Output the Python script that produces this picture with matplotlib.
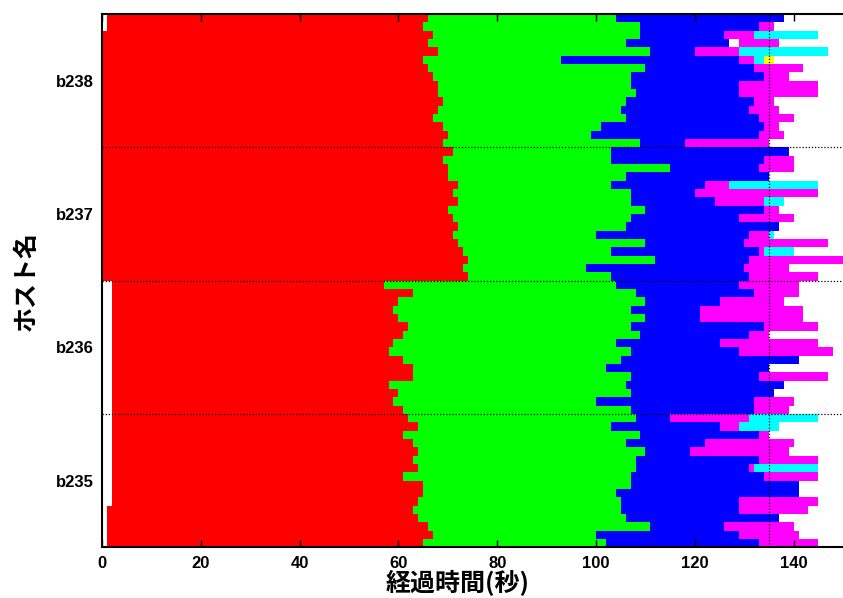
import matplotlib
matplotlib.use("Agg")
import matplotlib.pyplot as plt

hosts = ["b238", "b237", "b236", "b235"]

# one row per task, top to bottom; 16 rows per host (b238 first)
start = [
    1, 1, 0, 0, 0, 0, 0, 0, 0, 0, 0, 0, 0, 0, 0, 0,
    0, 0, 0, 0, 0, 0, 0, 0, 0, 0, 0, 0, 0, 0, 0, 0,
    2, 2, 2, 2, 2, 2, 2, 2, 2, 2, 2, 2, 2, 2, 2, 2,
    2, 2, 2, 2, 2, 2, 2, 2, 2, 2, 2, 1, 1, 1, 1, 1,
]
red_end = [
    66, 65, 67, 66, 68, 65, 66, 67, 68, 68, 69, 68, 67, 69, 70, 69,
    71, 69, 70, 70, 72, 71, 72, 70, 71, 72, 71, 72, 73, 74, 73, 74,
    57, 63, 60, 59, 60, 62, 61, 59, 58, 61, 63, 63, 58, 60, 59, 61,
    62, 64, 61, 63, 64, 63, 64, 61, 65, 65, 64, 63, 64, 66, 67, 65,
]
green_end = [
    104, 109, 109, 106, 111, 93, 110, 107, 107, 108, 106, 105, 106, 101, 99, 109,
    103, 103, 115, 106, 103, 107, 107, 110, 107, 106, 100, 110, 103, 112, 98, 103,
    104, 108, 110, 107, 110, 107, 109, 104, 107, 105, 102, 107, 106, 107, 100, 107,
    108, 103, 109, 106, 110, 108, 108, 107, 107, 104, 105, 105, 106, 111, 100, 102,
]
blue_end = [
    138, 133, 126, 127, 120, 129, 132, 134, 129, 129, 132, 131, 133, 134, 133, 118,
    139, 134, 133, 135, 122, 120, 124, 134, 129, 137, 131, 130, 133, 131, 130, 131,
    129, 132, 125, 121, 121, 134, 131, 125, 129, 141, 135, 133, 138, 136, 132, 132,
    115, 125, 133, 122, 119, 133, 131, 134, 141, 141, 129, 129, 137, 126, 129, 133,
]
# magenta normally starts where blue ends; a few rows wait first
mag_start = {3: 129}
mag_end = [
    None, 136, 132, 137, 129, 132, 142, 139, 145, 145, 136, 137, 140, 137, 138, 135,
    None, 140, 140, None, 127, 145, 134, 137, 140, None, 135, 147, 134, 150, 139, 145,
    141, 141, 138, 142, 142, 145, 135, 145, 148, None, None, 147, None, None, 140, 139,
    131, 129, 135, 140, 139, 145, 132, 145, None, None, 145, 143, None, 140, 141, 145,
]
cyan_end = {2: 145, 4: 147, 5: 134, 20: 145, 22: 138, 26: 136, 28: 140,
            48: 145, 49: 137, 54: 145}
yellow_end = {5: 136}

deadline = 135

plt.rcParams['font.family'] = ['Liberation Sans', 'Noto Sans CJK JP']
plt.rcParams['font.weight'] = 'bold'

fig = plt.figure(figsize=(8.43, 5.98), dpi=100)
ax = fig.add_axes([102 / 843, 50.7 / 598, 741 / 843, 533.3 / 598])

n = len(start)
for i in range(n):
    ax.barh(i, red_end[i] - start[i], left=start[i], height=1.0, color="#ff0000", linewidth=0)
    ax.barh(i, green_end[i] - red_end[i], left=red_end[i], height=1.0, color="#00ff00", linewidth=0)
    ax.barh(i, blue_end[i] - green_end[i], left=green_end[i], height=1.0, color="#0000ff", linewidth=0)
    if mag_end[i] is not None:
        m0 = mag_start.get(i, blue_end[i])
        ax.barh(i, mag_end[i] - m0, left=m0, height=1.0, color="#ff00ff", linewidth=0)
        if i in cyan_end:
            ax.barh(i, cyan_end[i] - mag_end[i], left=mag_end[i], height=1.0, color="#00ffff", linewidth=0)
            if i in yellow_end:
                ax.barh(i, yellow_end[i] - cyan_end[i], left=cyan_end[i], height=1.0, color="#ffff00", linewidth=0)

for k in range(1, len(hosts)):
    ax.axhline(k * 16 - 0.5, color="black", linestyle=(0, (1, 1.5)), linewidth=0.9, zorder=5)
ax.axvline(deadline, color="black", linestyle=(0, (1, 1.5)), linewidth=0.9, zorder=5)

ax.set_xlim(0, 150)
ax.set_ylim(n - 0.5, -0.5)
ax.set_xticks([0, 20, 40, 60, 80, 100, 120, 140])
ax.set_yticks([k * 16 + 7.5 for k in range(len(hosts))])
ax.set_yticklabels(hosts)
ax.tick_params(axis="x", direction="in", top=True, length=5, width=1, labelsize=12, pad=6)
ax.tick_params(axis="y", length=0, labelsize=12, pad=6)
ax.spines["right"].set_visible(False)
for s in ["left", "bottom", "top"]:
    ax.spines[s].set_linewidth(1.5)
    ax.spines[s].set_zorder(6)

ax.set_xlabel("経過時間(秒)", fontsize=18, fontweight="bold", family=['Noto Sans CJK JP'])
ax.xaxis.set_label_coords(0.48, -0.042)
ax.set_ylabel("ホスト名", fontsize=18, fontweight="bold", family=['Noto Sans CJK JP'])
ax.yaxis.set_label_coords(-0.085, 0.5)

fig.savefig("out.png", dpi=100)
